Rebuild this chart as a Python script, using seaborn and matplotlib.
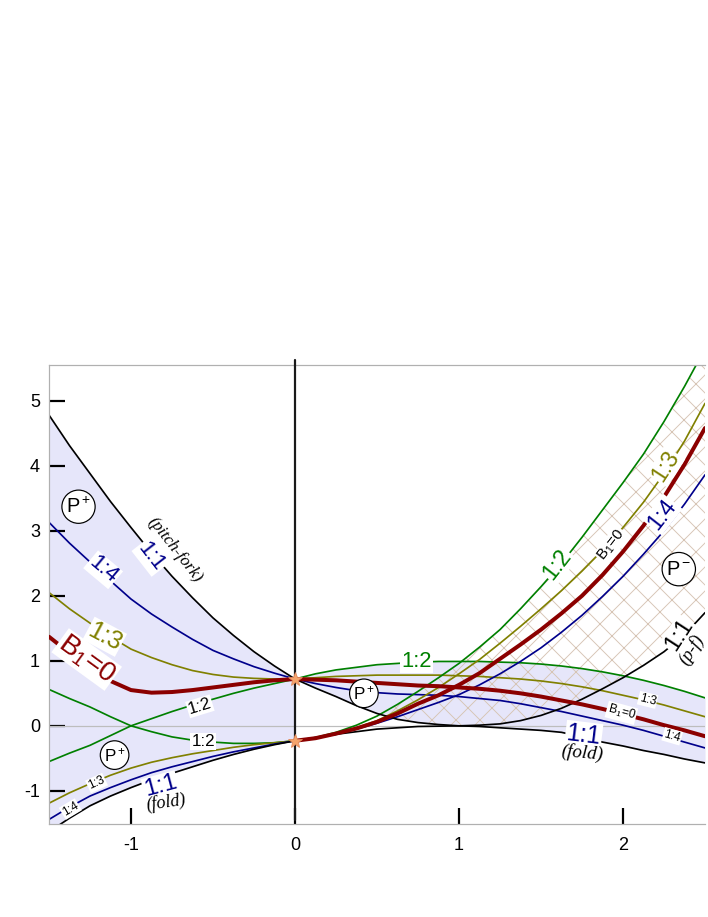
import numpy as np
import matplotlib
matplotlib.use("Agg")
import matplotlib.pyplot as plt
import seaborn as sns

# parameter grid left of the axis (x <= 0) and right of it (x >= 0)
x_left = [-1.5, -1.375, -1.25, -1.125, -1.0, -0.875, -0.75, -0.625, -0.5, -0.375, -0.25, -0.125, 0.0]
x_right = [0.0, 0.125, 0.25, 0.375, 0.5, 0.625, 0.75, 0.875, 1.0, 1.125, 1.25, 1.375,
           1.5, 1.625, 1.75, 1.875, 2.0, 2.125, 2.25, 2.375, 2.5]

# 1:1 curves (black)
pitch_left = [4.78, 4.31, 3.88, 3.45, 3.05, 2.66, 2.30, 1.97, 1.66, 1.39, 1.14, 0.92, 0.72]
fold_left = [-1.63, -1.42, -1.23, -1.08, -0.95, -0.83, -0.73, -0.63, -0.53, -0.44, -0.36, -0.29, -0.23]
pitch_right = [0.72, 0.58, 0.45, 0.31, 0.19, 0.10, 0.05, 0.02, 0.0, 0.01, 0.03, 0.08,
               0.16, 0.27, 0.41, 0.57, 0.74, 0.93, 1.14, 1.40, 1.74]
fold_right = [-0.23, -0.18, -0.13, -0.09, -0.05, -0.03, -0.01, -0.005, 0.0, -0.01, -0.03, -0.05,
              -0.07, -0.10, -0.17, -0.25, -0.31, -0.38, -0.44, -0.51, -0.57]

# branches through the upper point (0, 0.72)
green_up_left = [-0.55, -0.42, -0.30, -0.15, 0.0, 0.11, 0.22, 0.32, 0.41, 0.50, 0.58, 0.65, 0.72]
olive_up_left = [2.05, 1.80, 1.58, 1.37, 1.18, 1.05, 0.94, 0.85, 0.79, 0.75, 0.73, 0.72, 0.72]
blue_up_left = [3.13, 2.81, 2.52, 2.23, 1.95, 1.72, 1.52, 1.33, 1.16, 1.03, 0.91, 0.81, 0.72]
red_up_left = [1.37, 1.12, 0.88, 0.69, 0.55, 0.51, 0.52, 0.55, 0.59, 0.63, 0.67, 0.70, 0.72]
green_up_right = [0.72, 0.80, 0.86, 0.90, 0.94, 0.96, 0.98, 0.99, 0.99, 0.99, 0.98, 0.97,
                  0.95, 0.92, 0.88, 0.83, 0.77, 0.70, 0.62, 0.53, 0.43]
olive_up_right = [0.72, 0.74, 0.76, 0.77, 0.78, 0.78, 0.78, 0.78, 0.77, 0.76, 0.74, 0.72,
                  0.69, 0.65, 0.60, 0.54, 0.47, 0.40, 0.32, 0.23, 0.14]
red_up_right = [0.72, 0.71, 0.70, 0.68, 0.66, 0.64, 0.62, 0.61, 0.59, 0.57, 0.54, 0.50,
                0.45, 0.39, 0.33, 0.26, 0.18, 0.10, 0.01, -0.07, -0.16]
blue_up_right = [0.72, 0.65, 0.59, 0.54, 0.51, 0.49, 0.48, 0.47, 0.45, 0.42, 0.39, 0.34,
                 0.28, 0.22, 0.15, 0.08, 0.01, -0.07, -0.16, -0.25, -0.34]

# branches through the lower point (0, -0.23)
green_lo_left = [0.56, 0.42, 0.29, 0.14, 0.0, -0.09, -0.17, -0.22, -0.25, -0.27, -0.27, -0.26, -0.23]
olive_lo_left = [-1.19, -1.03, -0.89, -0.76, -0.65, -0.56, -0.49, -0.43, -0.38, -0.33, -0.29, -0.26, -0.23]
blue_lo_left = [-1.44, -1.25, -1.08, -0.95, -0.83, -0.72, -0.63, -0.55, -0.47, -0.40, -0.34, -0.28, -0.23]
green_lo_right = [-0.23, -0.18, -0.10, 0.01, 0.15, 0.33, 0.53, 0.74, 0.96, 1.21, 1.48, 1.80,
                  2.14, 2.50, 2.90, 3.32, 3.74, 4.18, 4.68, 5.22, 5.80]
olive_lo_right = [-0.23, -0.19, -0.12, -0.03, 0.08, 0.23, 0.40, 0.59, 0.80, 1.02, 1.27, 1.53,
                  1.80, 2.08, 2.38, 2.70, 3.05, 3.44, 3.88, 4.38, 4.96]
red_lo_right = [-0.23, -0.19, -0.12, -0.04, 0.06, 0.19, 0.34, 0.47, 0.63, 0.81, 1.03, 1.25,
                1.48, 1.73, 2.00, 2.32, 2.68, 3.08, 3.52, 4.02, 4.58]
blue_lo_right = [-0.23, -0.19, -0.13, -0.05, 0.04, 0.14, 0.25, 0.36, 0.48, 0.63, 0.80, 0.99,
                 1.20, 1.44, 1.70, 1.99, 2.30, 2.64, 3.00, 3.41, 3.86]

codim2_y = [0.72, -0.23]

x_ticks = [-1, 0, 1, 2]
x_tick_labels = ["-1", "0", "1", "2"]
y_ticks = [-1, 0, 1, 2, 3, 4, 5]
y_tick_labels = ["-1", "0", "1", "2", "3", "4", "5"]

GREEN, OLIVE, NAVY, DRED = "#008000", "#808000", "#00008b", "#8b0000"

sns.set_style("white")
plt.rcParams["font.family"] = ["Liberation Sans", "DejaVu Sans"]
plt.rcParams["mathtext.fontset"] = "custom"
plt.rcParams["mathtext.rm"] = "Liberation Sans"
plt.rcParams["mathtext.it"] = "Liberation Sans:italic"
plt.rcParams["hatch.linewidth"] = 0.45
plt.rcParams["axes.unicode_minus"] = False

fig = plt.figure(figsize=(708 / 144, 917 / 144), dpi=144)
ax = fig.add_axes([0.0692, 0.1014, 0.9266, 0.5006])

xl = np.array(x_left)
xr = np.array(x_right)

# shaded regions
ax.fill_between(xl, fold_left, pitch_left, color="#e6e6fa", lw=0, zorder=0)
lower_right = np.where(xr <= 1.0, pitch_right, fold_right)
ax.fill_between(xr, lower_right, green_up_right, color="#e6e6fa", lw=0, zorder=0)
ax.fill_between(xr, pitch_right, green_lo_right, where=np.array(green_lo_right) >= np.array(pitch_right),
                interpolate=True, facecolor="none", edgecolor="#d6c4b4", hatch="xx", lw=0, zorder=1)

ax.axhline(0, color="#bdbdbd", lw=0.6, zorder=1.5)


def curve(x, y, color, lw=0.85, z=2):
    sns.lineplot(x=x, y=y, color=color, linewidth=lw, ax=ax, sort=False, estimator=None, zorder=z)


for ys, c in [(green_up_left, GREEN), (olive_up_left, OLIVE), (blue_up_left, NAVY),
              (green_lo_left, GREEN), (olive_lo_left, OLIVE), (blue_lo_left, NAVY)]:
    curve(x_left, ys, c)
for ys, c in [(green_up_right, GREEN), (olive_up_right, OLIVE), (blue_up_right, NAVY),
              (green_lo_right, GREEN), (olive_lo_right, OLIVE), (blue_lo_right, NAVY)]:
    curve(x_right, ys, c)
curve(x_left, red_up_left, DRED, lw=2.0, z=3)
curve(x_right, red_up_right, DRED, lw=2.0, z=3)
curve(x_right, red_lo_right, DRED, lw=2.0, z=3)
for xs, ys in [(x_left, pitch_left), (x_left, fold_left), (x_right, pitch_right), (x_right, fold_right)]:
    curve(xs, ys, "black", lw=0.85, z=2.5)

ax.plot([0, 0], [-1.45, 5.63], color="#1a1a1a", lw=1.1, clip_on=False, zorder=4)
ax.plot([0, 0], codim2_y, ls="none", marker="*", ms=7, color="#f4a46c",
        mec="#e0865a", mew=0.4, zorder=6)

# labels
white = dict(fc="white", ec="none", pad=0.5)
circ = dict(boxstyle="circle,pad=0.2", fc="white", ec="black", lw=0.6)
labels = [
    ("P$^+$", -1.32, 3.37, 0, 10, "black", circ, "sans"),
    ("P$^+$", -1.10, -0.45, 0, 8.5, "black", circ, "sans"),
    ("P$^+$", 0.42, 0.50, 0, 8.5, "black", circ, "sans"),
    ("P$^-$", 2.34, 2.41, 0, 10, "black", circ, "sans"),
    ("1:1", -0.88, 2.60, -52, 11, NAVY, white, "sans"),
    ("(pitch-fork)", -0.73, 2.71, -52, 8.5, "black", None, "serif"),
    ("1:4", -1.17, 2.40, -40, 11, NAVY, white, "sans"),
    ("1:3", -1.16, 1.37, -28, 12.5, OLIVE, white, "sans"),
    ("B$_1$=0", -1.27, 1.02, -36, 14, DRED, white, "sans"),
    ("1:2", -0.58, 0.30, 17, 8.5, "black", white, "sans"),
    ("1:2", -0.56, -0.24, 0, 8.5, "black", white, "sans"),
    ("1:3", -1.21, -0.88, 25, 6, "black", white, "sans"),
    ("1:4", -1.37, -1.28, 31, 6, "black", white, "sans"),
    ("1:1", -0.82, -0.93, 15, 12, NAVY, white, "sans"),
    ("(fold)", -0.79, -1.18, 8, 9, "black", None, "serif"),
    ("1:2", 0.74, 0.99, 0, 11, GREEN, white, "sans"),
    ("1:3", 2.15, 0.40, -14, 6, "black", white, "sans"),
    ("B$_1$=0", 1.99, 0.20, -15, 6, "black", white, "sans"),
    ("1:4", 2.30, -0.16, -16, 6, "black", white, "sans"),
    ("1:1", 1.76, -0.14, -7, 12.5, NAVY, white, "sans"),
    ("(fold)", 1.75, -0.41, -5, 9.5, "black", None, "serif"),
    ("1:1", 2.34, 1.40, 57, 12, "black", white, "sans"),
    ("(p-f)", 2.42, 1.17, 57, 9, "black", None, "serif"),
    ("1:2", 1.60, 2.48, 52, 11.5, GREEN, white, "sans"),
    ("B$_1$=0", 1.93, 2.78, 52, 7.5, "black", white, "sans"),
    ("1:3", 2.26, 3.99, 57, 11.5, OLIVE, white, "sans"),
    ("1:4", 2.24, 3.25, 52, 11.5, NAVY, white, "sans"),
]
for txt, x, y, rot, size, col, box, fam in labels:
    kw = dict(family="Liberation Serif", style="italic") if fam == "serif" else {}
    ax.text(x, y, txt, rotation=rot, fontsize=size, color=col, ha="center", va="center",
            rotation_mode="anchor", bbox=box, zorder=7, **kw)

ax.set_xlim(-1.5, 2.5)
ax.set_ylim(-1.51, 5.55)
ax.set_xticks(x_ticks, x_tick_labels)
ax.set_yticks(y_ticks, y_tick_labels)
ax.tick_params(axis="both", direction="in", length=8, width=1.1, color="black",
               labelsize=9, labelcolor="black", bottom=True, left=True)
ax.tick_params(axis="y", pad=4.5)
ax.tick_params(axis="x", pad=6.5)
for side in ["top", "left", "bottom"]:
    ax.spines[side].set_color("#b0b0b0")
    ax.spines[side].set_linewidth(0.6)
ax.spines["right"].set_visible(False)
ax.set_xlabel("")
ax.set_ylabel("")

fig.savefig("out.png", dpi=144)
